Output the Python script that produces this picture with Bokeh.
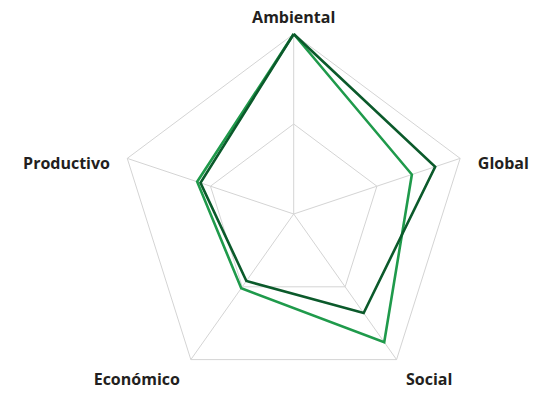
import numpy as np
from bokeh.plotting import figure
from bokeh.models import Range1d, Label
from bokeh.embed import file_html
from bokeh.resources import INLINE

# ---- data ----
categories = ["Ambiental", "Global", "Social", "Económico", "Productivo"]
serie_oscura = [1.00, 0.85, 0.68, 0.46, 0.56]
serie_clara = [1.00, 0.71, 0.88, 0.51, 0.58]
grid_levels = [0.5, 1.0]

# ---- layout (fits the 531x386 area inside the 8px page margin) ----
W, H = 531, 386
cx_px, cy_px = 293.2, 213.5
rx_px, ry_px = 175.0, 180.0

def dx(px):
    return (px - cx_px) / rx_px

def dy(py):
    return (cy_px - py) / ry_px

p = figure(width=W, height=H, output_backend="svg", toolbar_location=None,
           x_range=Range1d(dx(0), dx(W)), y_range=Range1d(dy(H), dy(0)),
           min_border=0, outline_line_color=None)
p.axis.visible = False
p.grid.visible = False
p.background_fill_color = "white"
p.border_fill_color = "white"

n = len(categories)
theta = np.pi / 2 - np.arange(n) * 2 * np.pi / n
cos_t, sin_t = np.cos(theta), np.sin(theta)

grid_color = "#d4d4d4"
for lvl in grid_levels:
    xs = list(lvl * cos_t) + [lvl * cos_t[0]]
    ys = list(lvl * sin_t) + [lvl * sin_t[0]]
    p.line(xs, ys, line_color=grid_color, line_width=1)
for c, s in zip(cos_t, sin_t):
    p.line([0, c], [0, s], line_color=grid_color, line_width=1)

def closed(vals):
    v = np.array(vals)
    xs = list(v * cos_t) + [v[0] * cos_t[0]]
    ys = list(v * sin_t) + [v[0] * sin_t[0]]
    return xs, ys

xs, ys = closed(serie_clara)
p.line(xs, ys, line_color="#1f9a4b", line_width=2.6, line_join="miter")
xs, ys = closed(serie_oscura)
p.line(xs, ys, line_color="#0b5a2b", line_width=2.6, line_join="miter")

# ---- labels (positions given as baseline, converted to text top) ----
ascent = 12.3
label_pos = [
    (dx(293.2), dy(18.0 - ascent), "center"),
    (dx(477.3), dy(163.6 - ascent), "left"),
    (dx(428.7), dy(380.0 - ascent), "center"),
    (dx(136.3), dy(380.0 - ascent), "center"),
    (dx(109.5), dy(164.0 - ascent), "right"),
]
for name, (lx, ly, al) in zip(categories, label_pos):
    p.add_layout(Label(x=lx, y=ly, text=name, text_align=al,
                       text_baseline="top", text_font="Open Sans",
                       text_font_style="bold", text_font_size="16px",
                       text_color="#231f20"))

open("out.html", "w").write(file_html(p, INLINE))
